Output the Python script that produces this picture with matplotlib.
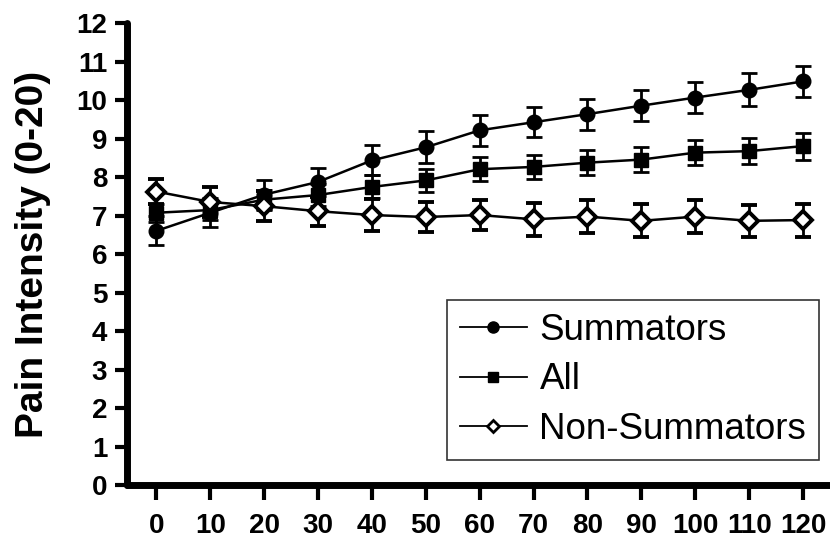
import matplotlib.pyplot as plt
from matplotlib.lines import Line2D

minutes = [0, 10, 20, 30, 40, 50, 60, 70, 80, 90, 100, 110, 120]

summators = [6.61, 7.08, 7.55, 7.88, 8.44, 8.78, 9.22, 9.43, 9.64, 9.86, 10.07, 10.27, 10.49]
summators_err = [0.38, 0.38, 0.37, 0.37, 0.39, 0.41, 0.40, 0.39, 0.40, 0.40, 0.41, 0.43, 0.41]

all_subj = [7.08, 7.15, 7.42, 7.54, 7.75, 7.92, 8.21, 8.27, 8.38, 8.46, 8.64, 8.68, 8.81]
all_err = [0.24, 0.25, 0.26, 0.28, 0.30, 0.30, 0.31, 0.32, 0.32, 0.33, 0.33, 0.33, 0.35]

non_summators = [7.63, 7.36, 7.25, 7.12, 7.02, 6.97, 7.02, 6.91, 6.98, 6.87, 6.98, 6.87, 6.89]
non_err = [0.32, 0.38, 0.39, 0.38, 0.42, 0.40, 0.40, 0.43, 0.42, 0.43, 0.42, 0.41, 0.43]

labels = ["Summators", "All", "Non-Summators"]
yticks = list(range(0, 13))

plt.rcParams["font.family"] = ["Liberation Sans", "DejaVu Sans"]

fig = plt.figure(figsize=(8.3, 5.49), dpi=100)
ax = fig.add_axes([0.1527, 0.1157, 0.8473, 0.842])

common = dict(color="black", linewidth=1.8, elinewidth=2.0, capsize=6, capthick=2.0)
ax.errorbar(minutes, summators, yerr=summators_err, marker="o", markersize=10.5,
            markerfacecolor="black", zorder=3, **common)
ax.errorbar(minutes, all_subj, yerr=all_err, marker="s", markersize=10,
            markerfacecolor="black", zorder=3, **common)
ax.errorbar(minutes, non_summators, yerr=non_err, marker="D", markersize=9.5,
            markerfacecolor="white", markeredgewidth=2.8, zorder=4, **common)

ax.set_xlim(-5.5, 125)
ax.set_ylim(0, 12)
ax.set_xticks(minutes)
ax.set_yticks(yticks)
ax.tick_params(direction="out", width=3, labelsize=20)
ax.tick_params(axis="y", length=9, pad=5)
ax.tick_params(axis="x", length=11, pad=9)
for lab in ax.get_xticklabels() + ax.get_yticklabels():
    lab.set_fontweight("bold")

for side in ("top", "right"):
    ax.spines[side].set_visible(False)
for side in ("left", "bottom"):
    ax.spines[side].set_linewidth(5)
    ax.spines[side].set_capstyle("round")

ax.set_ylabel("Pain Intensity (0-20)", fontsize=28, fontweight="bold", labelpad=18)

handles = [
    Line2D([], [], color="black", lw=1.3, marker="o", markersize=8),
    Line2D([], [], color="black", lw=1.3, marker="s", markersize=7.5),
    Line2D([], [], color="black", lw=1.3, marker="D", markersize=6.5,
           markerfacecolor="white", markeredgewidth=2),
]
leg = ax.legend(handles, labels, loc="lower right", bbox_to_anchor=(0.987, 0.162),
                bbox_transform=fig.transFigure, borderaxespad=0, fontsize=26.5,
                frameon=True, fancybox=False, edgecolor="black", handlelength=1.8,
                handletextpad=0.35, labelspacing=0.4, borderpad=0.35)
leg.get_frame().set_linewidth(1.2)

fig.savefig("out.png", dpi=100)
plt.close(fig)
